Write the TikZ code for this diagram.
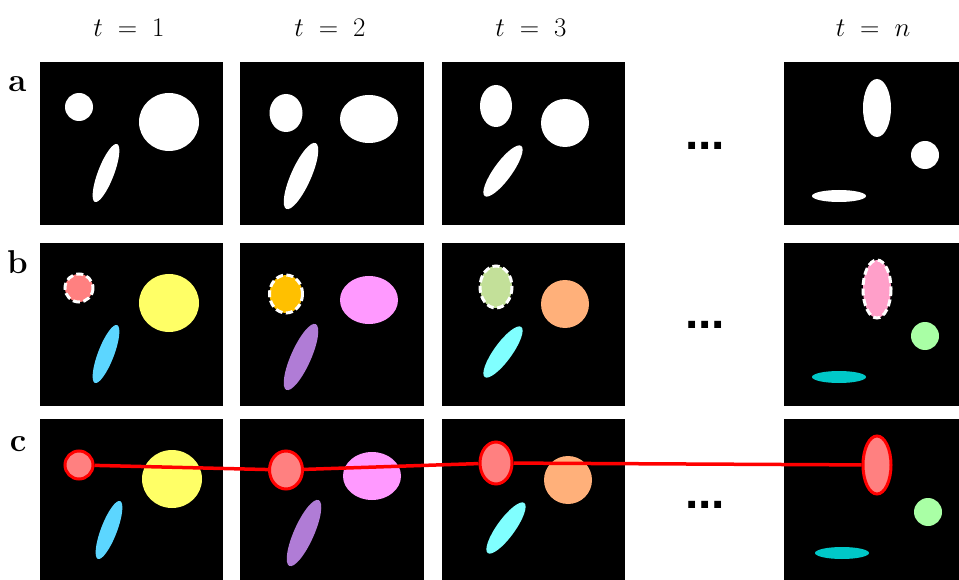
\documentclass[tikz,border=0pt]{standalone}
\usepackage{fontspec}
\newfontfamily\dotsfont{Liberation Sans}
\usetikzlibrary{shapes.geometric}

\definecolor{trkfill}{HTML}{FF8080}
\definecolor{sunny}{HTML}{FFFF66}
\definecolor{sky}{HTML}{5CD6FF}
\definecolor{amber}{HTML}{FFC000}
\definecolor{orchid}{HTML}{FF99FF}
\definecolor{lilac}{HTML}{B07CD6}
\definecolor{sage}{HTML}{C3E099}
\definecolor{peach}{HTML}{FFB07A}
\definecolor{aqua}{HTML}{80FFFF}
\definecolor{rose}{HTML}{FF9FC9}
\definecolor{mint}{HTML}{A9FFA5}
\definecolor{teal2}{HTML}{00C8C8}

\begin{document}
\begin{tikzpicture}[x=1pt,y=-1pt,
		tagged/.style={draw=white,line width=3pt,dash pattern=on 7pt off 3.5pt},
		trackbox/.style={ellipse,draw=red,fill=trkfill,line width=3pt,inner sep=0pt},
		track/.style={draw=red,line width=3.5pt},
		header/.style={font=\Huge,scale=1.08},
		rowtag/.style={anchor=base,font=\fontsize{33}{36}\selectfont\bfseries},
		gap/.style={anchor=base,inner sep=0pt,font=\fontsize{48}{54}\selectfont\dotsfont\bfseries}]
	\useasboundingbox (0,0) rectangle (959,580);
	% black frames
	\foreach \top/\bot in {62/225,243/406,419/580}
		\foreach \l/\r in {40/223,240/424,442/625,784/959}
			\fill (\l,\top) rectangle (\r,\bot);
	% headers and row tags
	\node[header] (h1) at (129,28) {$t\;=\;1$};
	\node[header] (h2) at (330,28) {$t\;=\;2$};
	\node[header] (h3) at (531,28) {$t\;=\;3$};
	\node[header] (hn) at (873,28) {$t\;=\;n$};
	\node[rowtag] (ra) at (17.5,92) {a};
	\node[rowtag] (rb) at (17.5,274) {b};
	\node[rowtag] (rc) at (18,451) {c};
	\node[gap] (ga) at (705,150) {...};
	\node[gap] (gb) at (705,328) {...};
	\node[gap] (gc) at (705,508) {...};
	% row a: masks
	\foreach \px/\py/\rx/\ry/\a in {79/107/14/14/0,169/122/30/29/0,106/173/31/8/69,
			286/113/16.5/19/0,369/119/29/24/0,301/176/36/10/66,
			496/106/16/21/0,565/123/24/24/0,503/171/31/9/54,
			877/108/14/29/0,925/155/14/14/0,839/196/27/6/0}
		\fill[white,shift={(\px,\py)},rotate=\a] (0,0) ellipse [x radius=\rx,y radius=\ry];
	% row b: labelled objects
	\foreach \c/\px/\py/\rx/\ry/\a in {trkfill/79/288/14/14/0,sunny/169/303/30/29/0,sky/106/354/31/8/69,
			amber/286/294/16.5/19/0,orchid/369/300/29/24/0,lilac/301/357/36/10/66,
			sage/496/287/16/21/0,peach/565/304/24/24/0,aqua/503/352/31/9/54,
			rose/877/289/14/29/0,mint/925/336/14/14/0,teal2/839/377/27/6/0}
		\fill[\c,shift={(\px,\py)},rotate=\a] (0,0) ellipse [x radius=\rx,y radius=\ry];
	\foreach \px/\py/\rx/\ry in {79/288/14/14,286/294/16.5/19,496/287/16/21,877/289/14/29}
		\draw[tagged,shift={(\px,\py)}] (0,0) ellipse [x radius=\rx,y radius=\ry];
	% row c: tracked object
	\foreach \c/\px/\py/\rx/\ry/\a in {sunny/172/479/30/29/0,sky/109/530/31/8/69,
			orchid/372/476/29/24/0,lilac/304/533/36/10/66,
			peach/568/480/24/24/0,aqua/506/528/31/9/54,
			mint/928/512/14/14/0,teal2/842/553/27/6/0}
		\fill[\c,shift={(\px,\py)},rotate=\a] (0,0) ellipse [x radius=\rx,y radius=\ry];
	\node[trackbox,minimum width=28pt,minimum height=28pt] (trk1) at (79,465) {};
	\node[trackbox,minimum width=33pt,minimum height=38pt] (trk2) at (286,470) {};
	\node[trackbox,minimum width=32pt,minimum height=42pt] (trk3) at (496,463) {};
	\node[trackbox,minimum width=28pt,minimum height=58pt] (trk4) at (877,465) {};
	\draw[track] (trk1) -- (trk2) -- (trk3) -- (trk4);
\end{tikzpicture}
\end{document}
